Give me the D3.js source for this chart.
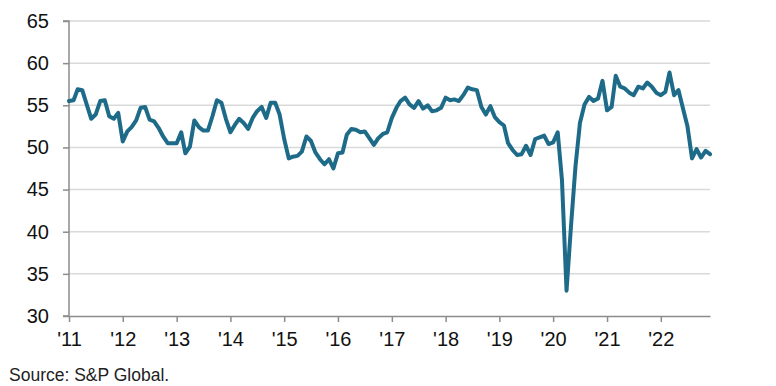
<!DOCTYPE html>
<html>
<head>
<meta charset="utf-8">
<script src="https://cdn.jsdelivr.net/npm/d3@7"></script>
<style>
  body { margin: 0; background: #fff; }
  svg { display: block; font-family: "Liberation Sans", Arial, sans-serif; }
</style>
</head>
<body>
<script>
// Monthly index values, Jan 2011 - Dec 2022

let startYear = 2011
let yTicks = [30, 35, 40, 45, 50, 55, 60, 65]

let v2011 = [55.5, 55.6, 56.9, 56.8, 55.1, 53.4, 53.9, 55.5, 55.6, 53.7, 53.4, 54.1]
let v2012 = [50.7, 51.9, 52.4, 53.2, 54.7, 54.8, 53.3, 53.1, 52.3, 51.3, 50.5, 50.5]
let v2013 = [50.5, 51.8, 49.3, 50.1, 53.2, 52.4, 52.0, 52.0, 53.7, 55.6, 55.3, 53.4]
let v2014 = [51.8, 52.7, 53.4, 52.9, 52.2, 53.5, 54.3, 54.8, 53.5, 55.3, 55.3, 53.9]
let v2015 = [51.0, 48.7, 48.9, 49.0, 49.5, 51.3, 50.8, 49.4, 48.6, 48.0, 48.6, 47.5]
let v2016 = [49.3, 49.4, 51.5, 52.2, 52.1, 51.8, 51.9, 51.1, 50.3, 51.1, 51.6, 51.8]
let v2017 = [53.5, 54.7, 55.5, 55.9, 55.1, 54.7, 55.5, 54.6, 55.0, 54.3, 54.4, 54.7]
let v2018 = [55.9, 55.6, 55.7, 55.5, 56.2, 57.1, 56.9, 56.8, 54.8, 53.9, 54.9, 53.6]
let v2019 = [53.0, 52.6, 50.5, 49.7, 49.1, 49.2, 50.2, 49.1, 51.0, 51.2, 51.4, 50.4]
let v2020 = [50.6, 51.8, 46.1, 33.0, 40.6, 47.8, 52.9, 55.1, 56.0, 55.5, 55.8, 57.9]
let v2021 = [54.4, 54.8, 58.5, 57.2, 57.0, 56.5, 56.2, 57.2, 57.0, 57.7, 57.2, 56.5]
let v2022 = [56.2, 56.6, 58.9, 56.2, 56.8, 54.6, 52.5, 48.7, 49.8, 48.8, 49.6, 49.2]

let values = [].concat(v2011, v2012, v2013, v2014, v2015, v2016,
                       v2017, v2018, v2019, v2020, v2021, v2022)

let data = values.map((v, i) => ({
    date: new Date(startYear + Math.floor(i / 12), i % 12, 1),
    value: v
}))

// Container sizing

let width = 776
let height = 386

let margin = {
    left: 69,
    top: 21,
    right: 66,
    bottom: 70
}

let chartWidth = width - margin.left - margin.right
let chartHeight = height - margin.top - margin.bottom

let svg = d3.select('body')
    .append('svg')
    .attr('width', width)
    .attr('height', height)

let chartGroup = svg.append('g')
    .attr('transform', `translate(${margin.left}, ${margin.top})`)

// Scales

let xScale = d3.scaleTime()
    .domain([data[0].date, data[data.length - 1].date])
    .range([0, chartWidth])

let yScale = d3.scaleLinear()
    .domain([30, 65])
    .range([chartHeight, 0])

// Gridlines

chartGroup.append('g')
    .selectAll('line')
    .data(yTicks.filter(t => t > 30))
    .join('line')
    .attr('x1', 0)
    .attr('x2', chartWidth)
    .attr('y1', d => yScale(d))
    .attr('y2', d => yScale(d))
    .attr('stroke', '#d9d9d9')
    .attr('stroke-width', 1.5)

// Axes

let yAxis = d3.axisLeft(yScale)
    .tickValues(yTicks)
    .tickSize(6)
    .tickPadding(14)

let yAxisGroup = chartGroup.append('g')
    .call(yAxis)

yAxisGroup.select('.domain').attr('stroke', '#8c8c8c').attr('stroke-width', 1.5)
    .attr('d', `M-6,${chartHeight}H0V0H-6`)
yAxisGroup.selectAll('.tick line').attr('stroke', '#8c8c8c').attr('stroke-width', 1.5)
yAxisGroup.selectAll('.tick text')
    .attr('font-size', 20)
    .attr('fill', '#111')

let yearTicks = d3.range(startYear, 2023).map(y => new Date(y, 0, 1))

let xAxis = d3.axisBottom(xScale)
    .tickValues(yearTicks)
    .tickFormat(d3.timeFormat("'%y"))
    .tickSize(6)
    .tickSizeOuter(0)
    .tickPadding(10)

let xAxisGroup = chartGroup.append('g')
    .attr('transform', `translate(0, ${chartHeight})`)
    .call(xAxis)

xAxisGroup.select('.domain').attr('stroke', '#8c8c8c').attr('stroke-width', 1.5)
xAxisGroup.selectAll('.tick line').attr('stroke', '#8c8c8c').attr('stroke-width', 1.5)
xAxisGroup.selectAll('.tick text')
    .attr('font-size', 20)
    .attr('fill', '#111')

// Line

let line = d3.line()
    .x(d => xScale(d.date))
    .y(d => yScale(d.value))

chartGroup.append('path')
    .datum(data)
    .attr('fill', 'none')
    .attr('stroke', '#1d6b88')
    .attr('stroke-width', 4)
    .attr('stroke-linejoin', 'round')
    .attr('stroke-linecap', 'round')
    .attr('d', line)

// Source note

svg.append('text')
    .attr('x', 9)
    .attr('y', 381)
    .attr('font-size', 17.5)
    .attr('fill', '#222')
    .text('Source: S&P Global.')
</script>
</body>
</html>
